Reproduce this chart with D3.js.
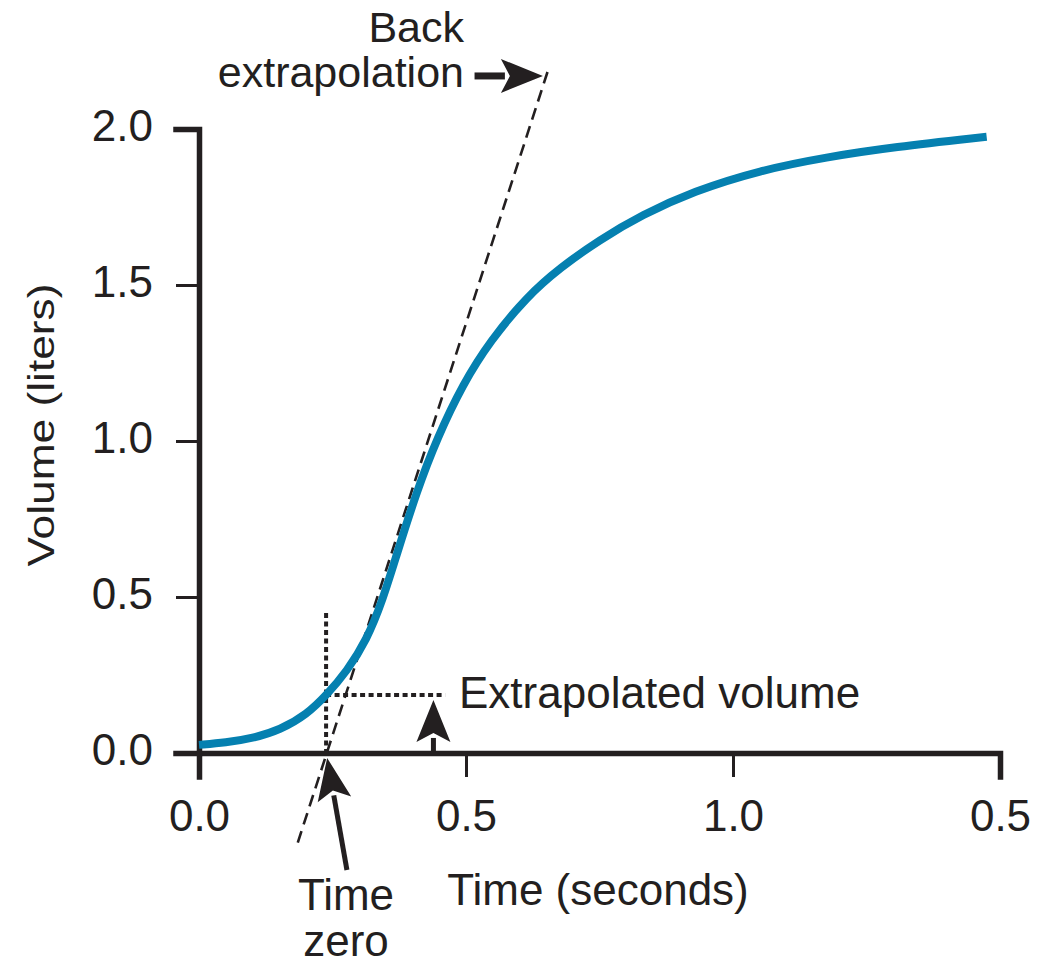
<!DOCTYPE html>
<html>
<head>
<meta charset="utf-8">
<script src="https://cdn.jsdelivr.net/npm/d3@7"></script>
<style>
  body { margin: 0; background: #fff; }
  svg { display: block; }
  text { font-family: "Liberation Sans", Arial, Helvetica, sans-serif; fill: #231f20; }
</style>
</head>
<body>
<svg id="chart" width="1038" height="966"></svg>
<script>
// volume-time curve (seconds, liters)
var timeValues = [0, 0.05, 0.1, 0.152, 0.202, 0.239, 0.277, 0.314, 0.344, 0.370, 0.408, 0.446,
  0.495, 0.545, 0.614, 0.676, 0.750, 0.830, 0.925, 1.051, 1.175, 1.300, 1.475];
var volumeValues = [0.026, 0.033, 0.047, 0.074, 0.124, 0.186, 0.262, 0.362, 0.490, 0.635, 0.840, 1.010,
  1.185, 1.320, 1.463, 1.555, 1.645, 1.725, 1.800, 1.868, 1.910, 1.942, 1.975];

var xTickValues = [0, 0.5, 1.0, 1.5];
var xTickLabels = ['0.0', '0.5', '1.0', '0.5'];
var yTickValues = [0, 0.5, 1.0, 1.5, 2.0];
var yTickLabels = ['0.0', '0.5', '1.0', '1.5', '2.0'];

// annotations, in data units
var backLine = [[0.185, -0.287], [0.654, 2.19]];
var timeZeroLine = [[0.238, 0.449], [0.238, 0]];
var extrapVolumeLine = [[0.238, 0.186], [0.461, 0.186]];
var upArrow = [[0.439, 0], [0.439, 0.17]];
var timeZeroArrow = [[0.277, -0.375], [0.240, -0.016]];
var backArrow = [[0.516, 2.170], [0.644, 2.170]];

var svg = d3.select('#chart');
var x = d3.scaleLinear().domain([0, 1.5]).range([199, 1000]);
var y = d3.scaleLinear().domain([0, 2]).range([753, 129]);
var ink = '#231f20';

// axes
var xAxis = svg.append('g').attr('transform', 'translate(0,' + y(0) + ')')
  .call(d3.axisBottom(x).tickValues(xTickValues).tickSizeOuter(0).tickSize(24).tickPadding(23)
    .tickFormat(function(d, i) { return xTickLabels[i]; }));
var yAxis = svg.append('g').attr('transform', 'translate(' + x(0) + ',0)')
  .call(d3.axisLeft(y).tickValues(yTickValues).tickSizeOuter(0).tickSize(23).tickPadding(23)
    .tickFormat(function(d, i) { return yTickLabels[i]; }));

[xAxis, yAxis].forEach(function(ax) {
  ax.select('.domain').attr('stroke', ink).attr('stroke-width', 5.5).attr('stroke-linecap', 'square');
  ax.selectAll('.tick line').attr('stroke', ink).attr('stroke-width', 3);
  ax.selectAll('.tick text').attr('font-size', 44).attr('fill', ink)
    .style('font-family', '"Liberation Sans", Arial, sans-serif');
});
yAxis.selectAll('.tick text').attr('dy', '0.27em');

var line = d3.line().x(function(d) { return x(d[0]); }).y(function(d) { return y(d[1]); });

// dashed back extrapolation
svg.append('path').attr('d', line(backLine))
  .attr('fill', 'none').attr('stroke', ink).attr('stroke-width', 2.6).attr('stroke-dasharray', '12,7');

// dotted guides
[timeZeroLine, extrapVolumeLine].forEach(function(seg) {
  svg.append('path').attr('d', line(seg))
    .attr('fill', 'none').attr('stroke', ink).attr('stroke-width', 4).attr('stroke-dasharray', '5,3.5');
});

// the curve
var points = timeValues.map(function(t, i) { return [t, volumeValues[i]]; });
var smooth = d3.line().curve(d3.curveBasis)
  .x(function(d) { return x(d[0]); }).y(function(d) { return y(d[1]); });
svg.append('path').attr('d', smooth(points))
  .attr('fill', 'none').attr('stroke', '#0580b0').attr('stroke-width', 8);

// arrows: stem + triangular head
function arrow(seg, stemWidth) {
  var x0 = x(seg[0][0]), y0 = y(seg[0][1]), x1 = x(seg[1][0]), y1 = y(seg[1][1]);
  var len = Math.hypot(x1 - x0, y1 - y0), ux = (x1 - x0) / len, uy = (y1 - y0) / len;
  var headLen = 42, half = 17;
  var bx = x1 - ux * headLen, by = y1 - uy * headLen;
  svg.append('line').attr('x1', x0).attr('y1', y0).attr('x2', bx + ux * 4).attr('y2', by + uy * 4)
    .attr('stroke', ink).attr('stroke-width', stemWidth);
  svg.append('path')
    .attr('d', 'M' + x1 + ',' + y1 +
      'L' + (bx - uy * half) + ',' + (by + ux * half) +
      'L' + (bx + ux * 9) + ',' + (by + uy * 9) +
      'L' + (bx + uy * half) + ',' + (by - ux * half) + 'Z')
    .attr('fill', ink);
}
arrow(upArrow, 5);
arrow(timeZeroArrow, 5);
arrow(backArrow, 7);

// text
svg.append('text').attr('x', 464).attr('y', 42).attr('text-anchor', 'end').attr('font-size', 43).text('Back');
svg.append('text').attr('x', 464).attr('y', 87).attr('text-anchor', 'end').attr('font-size', 43).text('extrapolation');
svg.append('text').attr('x', 459).attr('y', 708).attr('font-size', 44).text('Extrapolated volume');
svg.append('text').attr('x', 346).attr('y', 910).attr('text-anchor', 'middle').attr('font-size', 44).text('Time');
svg.append('text').attr('x', 346).attr('y', 956).attr('text-anchor', 'middle').attr('font-size', 44).text('zero');
svg.append('text').attr('x', 598).attr('y', 905).attr('text-anchor', 'middle').attr('font-size', 44).text('Time (seconds)');
svg.append('text').attr('transform', 'translate(54,425) rotate(-90)').attr('text-anchor', 'middle')
  .attr('font-size', 37).attr('textLength', 283).attr('lengthAdjust', 'spacingAndGlyphs')
  .text('Volume (liters)');
</script>
</body>
</html>
